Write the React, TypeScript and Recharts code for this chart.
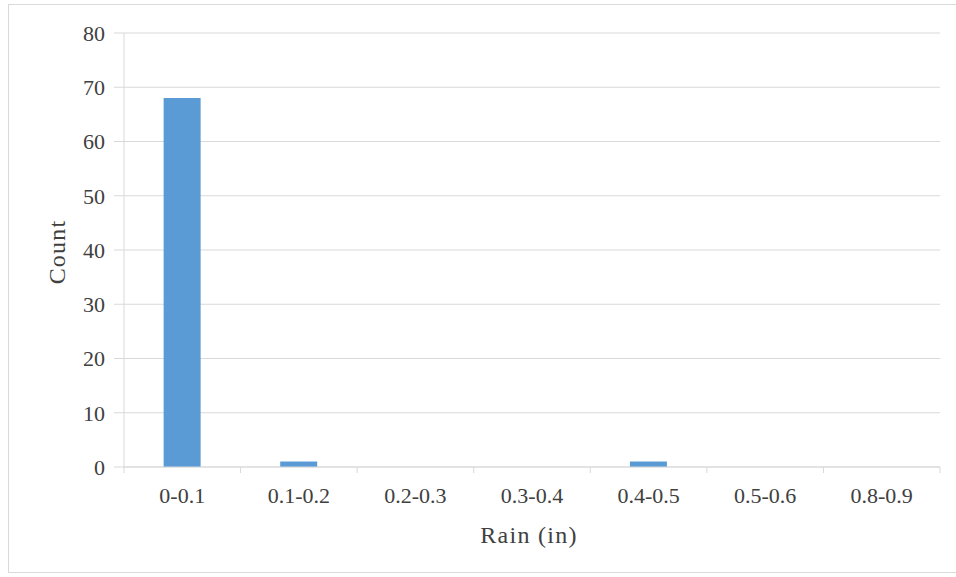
import React from 'react';
import { BarChart, Bar, XAxis, YAxis, CartesianGrid } from 'recharts';

const rainBins = ['0-0.1', '0.1-0.2', '0.2-0.3', '0.3-0.4', '0.4-0.5', '0.5-0.6', '0.8-0.9'];
const counts = [68, 1, 0, 0, 1, 0, 0];
const countTicks = [0, 10, 20, 30, 40, 50, 60, 70, 80];

const data = rainBins.map((bin, i) => ({ bin, count: counts[i] }));

const FONT = '"Liberation Serif", "Times New Roman", serif';
const TEXT = '#404040';
const GRID = '#D9D9D9';

// category label plus the boundary tick marks between bins
function BinTick(props: any) {
  const { x, y, payload, index } = props;
  const half = payload.offset || 0;
  const axisY = y - 8;
  return (
    <g>
      <line x1={x - half} x2={x - half} y1={axisY} y2={axisY + 6} stroke={GRID} />
      {index === rainBins.length - 1 && (
        <line x1={x + half} x2={x + half} y1={axisY} y2={axisY + 6} stroke={GRID} />
      )}
      <text
        x={x}
        y={y + 20}
        textAnchor="middle"
        dominantBaseline="central"
        fill={TEXT}
        fontFamily={FONT}
        fontSize={22}
      >
        {payload.value}
      </text>
    </g>
  );
}

function RainTitle(props: any) {
  const { x, y, width } = props.viewBox;
  return (
    <text
      x={x + width / 2 - 3}
      y={y + 76}
      textAnchor="middle"
      fill={TEXT}
      fontFamily={FONT}
      fontSize={24}
      letterSpacing={1.3}
    >
      Rain (in)
    </text>
  );
}

function CountTitle(props: any) {
  const { y, height } = props.viewBox;
  const cx = 57;
  const cy = y + height / 2 + 2;
  return (
    <text
      x={cx}
      y={cy}
      transform={`rotate(-90, ${cx}, ${cy})`}
      textAnchor="middle"
      dominantBaseline="central"
      fill={TEXT}
      fontFamily={FONT}
      fontSize={24}
      letterSpacing={1.2}
    >
      Count
    </text>
  );
}

export default function App() {
  return (
    <div style={{ position: 'absolute', left: 0, top: 0, width: 956, height: 577, background: '#fff' }}>
      <div
        style={{
          position: 'absolute',
          left: 8,
          top: 4,
          width: 960,
          height: 569,
          border: `1px solid ${GRID}`,
          boxSizing: 'border-box',
        }}
      />
      <div style={{ position: 'absolute', left: 0, top: 0 }}>
        <BarChart
          width={956}
          height={577}
          data={data}
          margin={{ top: 33, right: 16, left: 0, bottom: 0 }}
          barCategoryGap="34%"
        >
          <CartesianGrid vertical={false} stroke={GRID} />
          <XAxis
            dataKey="bin"
            height={110}
            stroke={GRID}
            tickLine={false}
            tick={<BinTick />}
            interval={0}
            label={<RainTitle />}
          />
          <YAxis
            width={124}
            domain={[0, 80]}
            ticks={countTicks}
            stroke={GRID}
            tickSize={10}
            tickMargin={9}
            tick={{ fill: TEXT, fontFamily: FONT, fontSize: 22 }}
            label={<CountTitle />}
          />
          <Bar dataKey="count" fill="#5B9BD5" isAnimationActive={false} />
        </BarChart>
      </div>
    </div>
  );
}
